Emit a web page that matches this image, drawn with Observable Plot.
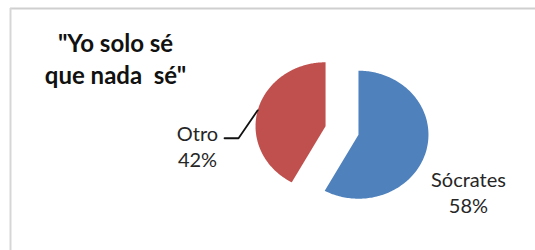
<!DOCTYPE html>
<html><head><meta charset="utf-8">
<script src="https://cdn.jsdelivr.net/npm/d3@7"></script>
<script src="https://cdn.jsdelivr.net/npm/@observablehq/plot@0.6"></script>
<style>html,body{margin:0;padding:0;background:#fff}</style>
</head><body><div id="chart"></div>
<script>
// ---- data ----
const categories = ["Sócrates", "Otro"];
const values = [58, 42];
const percentLabels = ["58%", "42%"];
const titleLines = ['"Yo solo sé', 'que nada  sé"'];
const sliceColors = ["#4F81BD", "#C0504D"];

// ---- layout ----
const W = 535, H = 250;
const cx = 341.5, cy = 130, rx = 70, ry = 64, explode = 17;
const labelOffsets = [[110, 57], [-128, 19]]; // from slice centre to label block centre

const arcs = d3.pie().sort(null).value(d => d)(values);
const slicePts = [];
const sliceInfo = arcs.map((a, i) => {
  const mid = (a.startAngle + a.endAngle) / 2;
  const ox = cx + explode * Math.sin(mid), oy = cy - explode * Math.cos(mid);
  slicePts.push({x: ox, y: oy, cat: categories[i]});
  const n = 180;
  for (let k = 0; k <= n; k++) {
    const t = a.startAngle + (a.endAngle - a.startAngle) * k / n;
    slicePts.push({x: ox + rx * Math.sin(t), y: oy - ry * Math.cos(t), cat: categories[i]});
  }
  slicePts.push({x: ox, y: oy, cat: categories[i]});
  return {cat: categories[i], pct: percentLabels[i], mid, ox, oy,
          lx: ox + labelOffsets[i][0], ly: oy + labelOffsets[i][1],
          ex: ox + rx * Math.sin(mid), ey: oy - ry * Math.cos(mid)};
});

const labels = sliceInfo.map(s => ({x: s.lx, y: s.ly, text: s.cat + "\n" + s.pct}));
// leader line for "Otro"
const otro = sliceInfo[1];
const leader = [
  {x: otro.lx + 27, y: otro.ly - 7},
  {x: otro.lx + 41, y: otro.ly - 7},
  {x: otro.ex, y: otro.ey}
];

const chart = Plot.plot({
  width: W, height: H,
  margin: 0,
  x: {domain: [0, W], range: [0, W], axis: null},
  y: {domain: [0, H], range: [0, H], axis: null},
  color: {domain: categories, range: sliceColors},
  style: {background: "#fff"},
  marks: [
    Plot.ruleY([8], {x1: 10, x2: W, stroke: "#cfcfcf", strokeWidth: 2}),
    Plot.ruleX([10], {y1: 8, y2: H, stroke: "#d6d6d6", strokeWidth: 2}),
    ...categories.map(c => Plot.line(slicePts.filter(p => p.cat === c), {
      x: "x", y: "y", fill: sliceColors[categories.indexOf(c)], stroke: "none", curve: "linear"
    })),
    Plot.line(leader, {x: "x", y: "y", stroke: "#111", strokeWidth: 1.8}),
    Plot.text(labels, {x: "x", y: "y", text: "text", textAnchor: "middle", lineHeight: 1.3,
      fontSize: 20, fill: "#262626", fontFamily: "Lato"}),
    Plot.text([titleLines.join("\n")], {x: [115], y: [57.3], text: d => d, textAnchor: "middle",
      lineHeight: 1.33, fontSize: 24, fontWeight: "bold", fill: "#111", fontFamily: "Lato"})
  ]
});
document.getElementById("chart").appendChild(chart);
</script>
</body></html>
